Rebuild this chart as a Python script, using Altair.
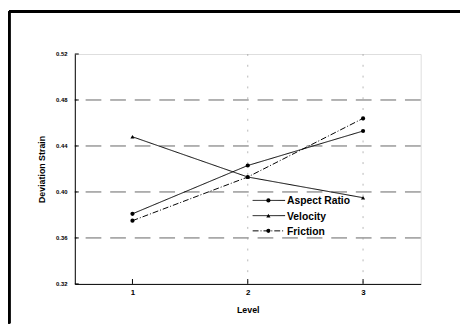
import altair as alt
import pandas as pd

levels = [1, 2, 3]
series_names = ["Aspect Ratio", "Velocity", "Friction"]
aspect_ratio = [0.381, 0.423, 0.453]
velocity = [0.448, 0.413, 0.395]
friction = [0.375, 0.413, 0.464]
y_ticks = [0.32, 0.36, 0.40, 0.44, 0.48, 0.52]
x_ticks = [1, 2, 3]

rows = []
for name, vals in zip(series_names, [aspect_ratio, velocity, friction]):
    for lv, v in zip(levels, vals):
        rows.append({"Level": lv, "Strain": v, "Series": name})
df = pd.DataFrame(rows)

FONT = "Liberation Sans"

xscale = alt.Scale(domain=[0.5, 3.5], nice=False)
yscale = alt.Scale(domain=[0.32, 0.52], nice=False, zero=False)

dash_scale = alt.Scale(domain=series_names, range=[[1, 0], [1, 0], [6, 2, 1, 2]])
shape_scale = alt.Scale(domain=series_names, range=["circle", "triangle-up", "circle"])

base = alt.Chart(df)

grid_df = pd.DataFrame({"y": y_ticks[1:-1]})
hgrid = alt.Chart(grid_df).mark_rule(color="#222", strokeWidth=0.7, strokeDash=[16, 9]).encode(
    y=alt.Y("y:Q", scale=yscale)
)
vgrid_df = pd.DataFrame({"x": x_ticks[1:]})
vgrid = alt.Chart(vgrid_df).mark_rule(color="#999", strokeWidth=0.7, strokeDash=[2, 9]).encode(
    x=alt.X("x:Q", scale=xscale)
)

# inward tick marks
ytick_df = pd.DataFrame({"y": y_ticks})
yticks = alt.Chart(ytick_df).mark_rule(color="black", strokeWidth=1).encode(
    y=alt.Y("y:Q", scale=yscale), x=alt.value(0), x2=alt.value(4)
)
xtick_df = pd.DataFrame({"x": x_ticks})
xticks = alt.Chart(xtick_df).mark_rule(color="black", strokeWidth=1).encode(
    x=alt.X("x:Q", scale=xscale), y=alt.value(234), y2=alt.value(229)
)

lines = base.mark_line(color="black", strokeWidth=1).encode(
    x=alt.X("Level:Q", scale=xscale,
            axis=alt.Axis(values=x_ticks, format="d", title="Level", grid=False,
                          domainColor="black", ticks=False,
                          labelFont=FONT, labelFontSize=8, labelFontWeight="bold",
                          labelColor="black", titleFont=FONT, titleFontSize=9,
                          titleFontWeight="bold", titleColor="black", titlePadding=9,
                          labelPadding=5)),
    y=alt.Y("Strain:Q", scale=yscale,
            axis=alt.Axis(values=y_ticks, format=".2f", title="Deviation Strain", grid=False,
                          domainColor="black", ticks=False,
                          labelFont=FONT, labelFontSize=6, labelFontWeight="bold",
                          labelColor="black", titleFont=FONT, titleFontSize=9,
                          titleFontWeight="bold", titleColor="black", titlePadding=9,
                          labelPadding=8)),
    strokeDash=alt.StrokeDash("Series:N", scale=dash_scale, legend=None),
    detail="Series:N",
)

points = base.mark_point(filled=True, color="black", size=18, opacity=1).encode(
    x=alt.X("Level:Q", scale=xscale),
    y=alt.Y("Strain:Q", scale=yscale),
    shape=alt.Shape("Series:N", scale=shape_scale, legend=None),
)

# manual legend
leg_df = pd.DataFrame({"Series": series_names, "idx": list(range(len(series_names)))})
leg_base = alt.Chart(leg_df).transform_calculate(ly="149 + 15.5 * datum.idx")
leg_lines = leg_base.mark_rule(color="black", strokeWidth=1).encode(
    x=alt.value(181), x2=alt.value(214), y=alt.Y("ly:Q", scale=None),
    strokeDash=alt.StrokeDash("Series:N", scale=dash_scale, legend=None),
)
leg_pts = leg_base.mark_point(filled=True, color="black", size=18, opacity=1).encode(
    x=alt.value(197), y=alt.Y("ly:Q", scale=None),
    shape=alt.Shape("Series:N", scale=shape_scale, legend=None),
)
leg_text = leg_base.mark_text(align="left", baseline="middle", font=FONT, fontSize=10.5,
                              fontWeight="bold", color="black", dy=1).encode(
    x=alt.value(216), y=alt.Y("ly:Q", scale=None), text="Series:N"
)

frame_top = alt.Chart(df).mark_rule(color="black", strokeWidth=2.5).encode(
    x=alt.value(-67), x2=alt.value(392), y=alt.value(-43)
)
frame_left = alt.Chart(df).mark_rule(color="black", strokeWidth=2.5).encode(
    x=alt.value(-67), y=alt.value(-43), y2=alt.value(274)
)

chart = alt.layer(hgrid, vgrid, yticks, xticks, lines, points,
                  leg_lines, leg_pts, leg_text, frame_top, frame_left).properties(
    width=352, height=234,
    autosize=alt.AutoSizeParams(type="none"),
    padding={"left": 68, "top": 44, "right": 40, "bottom": 40},
).configure_view(stroke=None).configure(background="white")

chart.save("out.html", embed_options={"renderer": "svg", "actions": False})
